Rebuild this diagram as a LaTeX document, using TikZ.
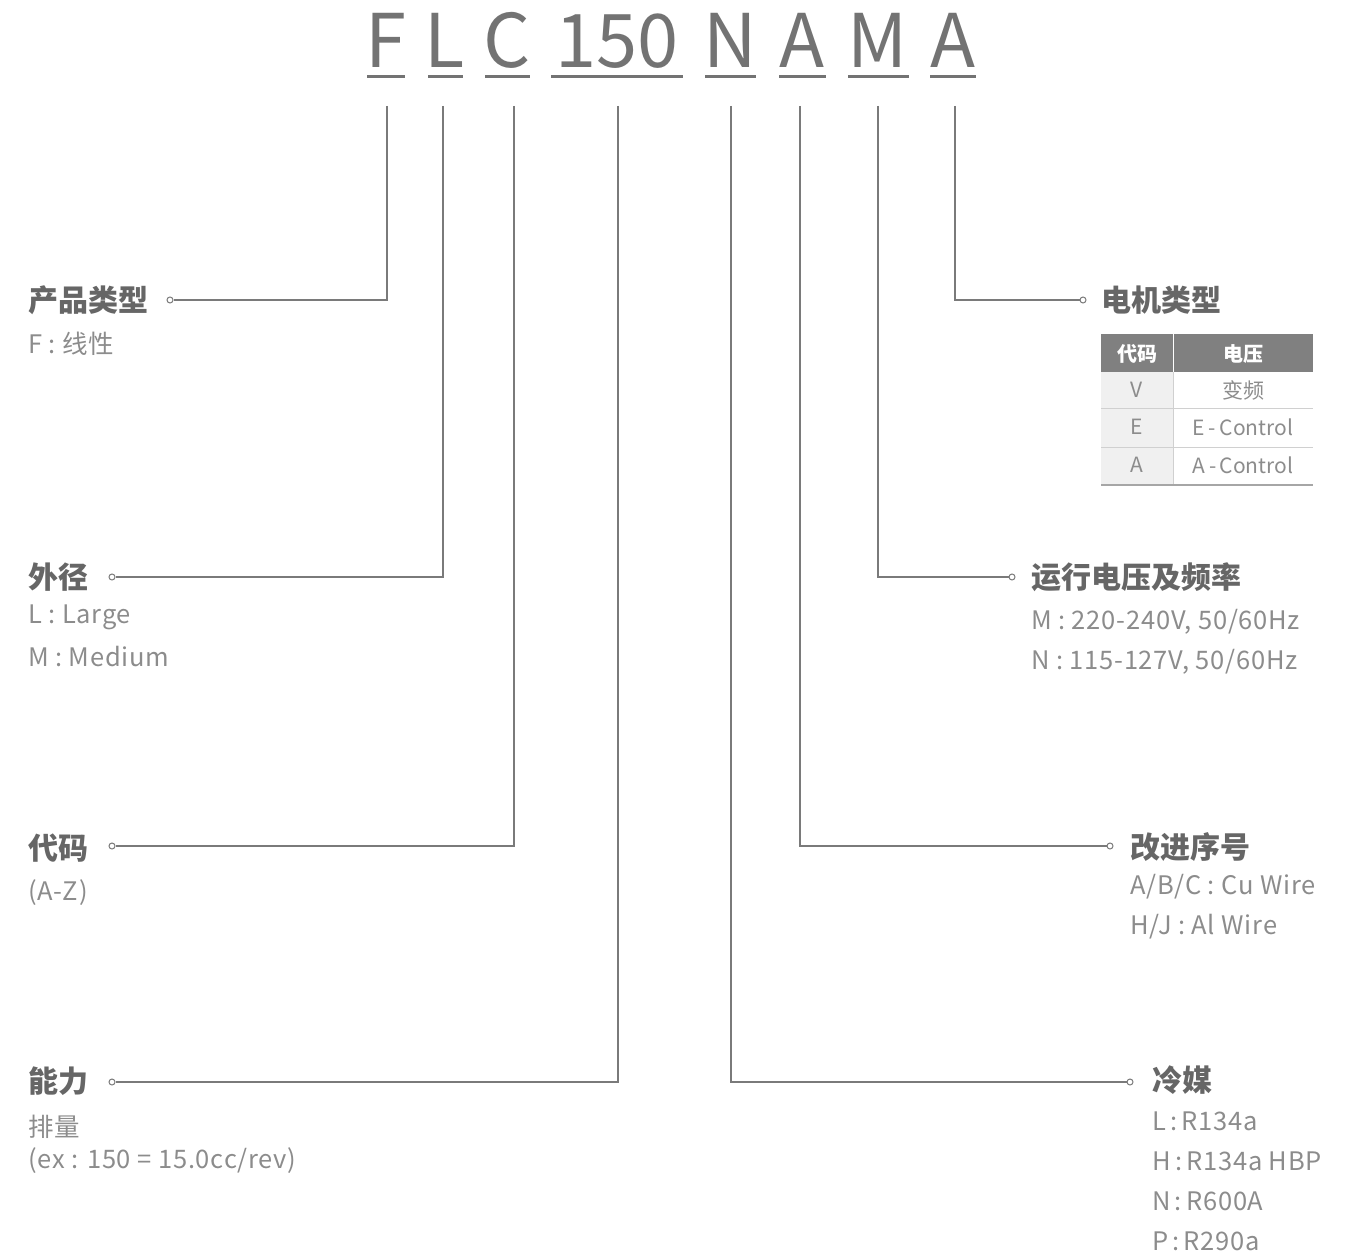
\documentclass[tikz,border=0pt]{standalone}
\usepackage{fontspec}
\setmainfont{Noto Sans CJK SC}
\newfontfamily\subfont{Noto Sans CJK SC}[LetterSpace=3]
\definecolor{titlegray}{HTML}{737373}
\definecolor{headgray}{HTML}{666666}
\definecolor{subgray}{HTML}{8C8C8C}
\definecolor{linegray}{HTML}{7A7A7A}
\definecolor{thead}{HTML}{808080}
\definecolor{tcell}{HTML}{F0F0F0}
\definecolor{tline}{HTML}{D0D0D0}
\begin{document}
\begin{tikzpicture}[x=1pt,y=-1pt,
  ttl/.style={font=\fontsize{74}{74}\selectfont, text=titlegray, anchor=base, inner sep=0pt},
  ul/.style={line width=3pt, draw=titlegray},
  conn/.style={draw=linegray, line width=1.3pt},
  dot/.style={circle, draw=linegray, fill=white, inner sep=0pt, minimum size=6pt, line width=1pt},
  head/.style={font=\fontsize{30}{30}\selectfont\bfseries, text=headgray, anchor=west, inner sep=0pt},
  sub/.style={font=\subfont\fontsize{25.5}{25.5}\selectfont, text=subgray, anchor=west, inner sep=0pt},
  cell/.style={font=\fontsize{21}{21}\selectfont, text=subgray, inner sep=0pt},
  hcell/.style={font=\fontsize{20}{20}\selectfont\bfseries, text=white, inner sep=0pt}]
\useasboundingbox (0,0) rectangle (1361,1257);
% title
\node[ttl] (tF) at (386,68) {F};
\node[ttl] (tL) at (445,68) {L};
\node[ttl] (tC) at (507,68) {C};
\node[ttl] (t150) at (617,68) {150};
\node[ttl] (tN) at (730,68) {N};
\node[ttl] (tA) at (802,68) {A};
\node[ttl] (tM) at (878,68) {M};
\node[ttl] (tA2) at (953,68) {A};
\draw[ul] (367,77) -- (405,77);
\draw[ul] (428,77) -- (463,77);
\draw[ul] (485,77) -- (530,77);
\draw[ul] (551,77) -- (683,77);
\draw[ul] (705,77) -- (756,77);
\draw[ul] (779,77) -- (826,77);
\draw[ul] (848,77) -- (909,77);
\draw[ul] (930,77) -- (976,77);
% connector starts
\coordinate (cF) at (387,106);
\coordinate (cL) at (443,106);
\coordinate (cC) at (514,106);
\coordinate (c150) at (618,106);
\coordinate (cN) at (731,106);
\coordinate (cA) at (800,106);
\coordinate (cM) at (878,106);
\coordinate (cA2) at (955,106);
% dots
\node[dot] (d1) at (170,300) {};
\node[dot] (d2) at (112,577) {};
\node[dot] (d3) at (112,846) {};
\node[dot] (d4) at (112,1082) {};
\node[dot] (d5) at (1083,300) {};
\node[dot] (d6) at (1012,577) {};
\node[dot] (d7) at (1110,846) {};
\node[dot] (d8) at (1130,1082) {};
\draw[conn] (cF) |- (d1.east);
\draw[conn] (cL) |- (d2.east);
\draw[conn] (cC) |- (d3.east);
\draw[conn] (c150) |- (d4.east);
\draw[conn] (cA2) |- (d5.west);
\draw[conn] (cM) |- (d6.west);
\draw[conn] (cA) |- (d7.west);
\draw[conn] (cN) |- (d8.west);
% left labels
\node[head] (h1) at (28,300) {产品类型};
\node[sub] (s1) at (28,344) {F : 线性};
\node[head] (h2) at (28,577) {外径};
\node[sub] (s2a) at (28,617) {L : Large};
\node[sub] (s2b) at (28,657) {M : Medium};
\node[head] (h3) at (28,848) {代码};
\node[sub] (s3) at (28,893) {(A-Z)};
\node[head] (h4) at (28,1081) {能力};
\node[sub] (s4a) at (28,1127) {排量};
\node[sub] (s4b) at (28,1161) {(ex : 150 = 15.0cc/rev)};
% right labels
\node[head] (h5) at (1101,300) {电机类型};
\node[head] (h6) at (1031,577) {运行电压及频率};
\node[sub] (s6a) at (1031,622) {M : 220-240V, 50/60Hz};
\node[sub] (s6b) at (1031,662) {N : 115-127V, 50/60Hz};
\node[head] (h7) at (1130,847) {改进序号};
\node[sub] (s7a) at (1130,887) {A/B/C : Cu Wire};
\node[sub] (s7b) at (1130,927) {H/J : Al Wire};
\node[head] (h8) at (1152,1080) {冷媒};
\node[sub] (s8a) at (1152,1121) {L\,:\,R134a};
\node[sub] (s8b) at (1152,1161) {H\,:\,R134a HBP};
\node[sub] (s8c) at (1152,1201) {N\,:\,R600A};
\node[sub] (s8d) at (1152,1241) {P\,:\,R290a};
% table
\fill[thead] (1101,334) rectangle (1313,372);
\fill[tcell] (1101,372) rectangle (1173,485);
\draw[white, line width=1pt] (1173,334) -- (1173,372);
\draw[tline, line width=1pt] (1101,409) -- (1313,409);
\draw[tline, line width=1pt] (1101,447) -- (1313,447);
\draw[tline, line width=1pt] (1173,372) -- (1173,485);
\draw[gray!70, line width=1.5pt] (1101,485) -- (1313,485);
\node[hcell] (th1) at (1137,354) {代码};
\node[hcell] (th2) at (1243,354) {电压};
\node[cell] (r1a) at (1137,390) {V};
\node[cell] (r1b) at (1243,390) {变频};
\node[cell] (r2a) at (1137,427) {E};
\node[cell] (r2b) at (1243,427) {E\,-\,Control};
\node[cell] (r3a) at (1137,465) {A};
\node[cell] (r3b) at (1243,465) {A\,-\,Control};
\end{tikzpicture}
\end{document}
